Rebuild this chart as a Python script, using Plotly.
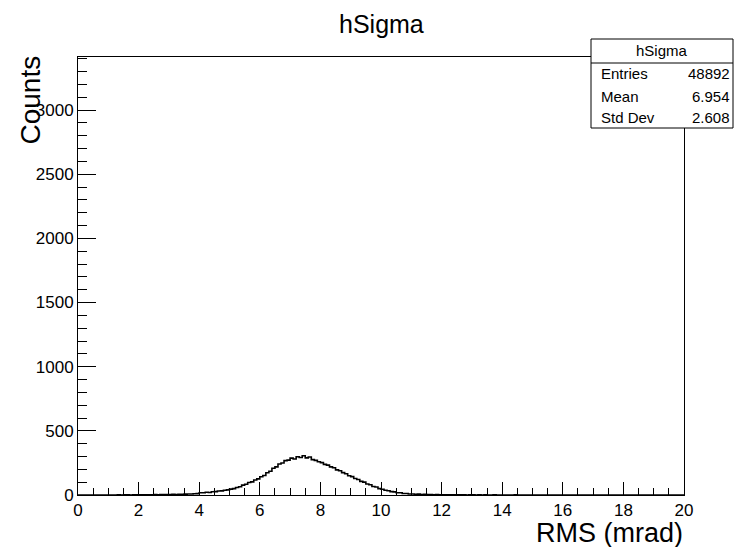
import plotly.graph_objects as go

# ---- data (bin width 0.1, range 0-20) ----
bin_start = 0.0
bin_width = 0.1
counts = [
    0, 0, 0, 0, 0, 0, 0, 0, 0, 0,
    0, 0, 0, 1, 0, 1, 1, 0, 1, 1,
    1, 2, 1, 2, 2, 3, 2, 3, 3, 4,
    4, 5, 4, 6, 6, 7, 8, 8, 10, 11,
    18, 17, 21, 20, 25, 26, 31, 32, 37, 40,
    46, 50, 59, 64, 77, 84, 97, 102, 117, 126,
    142, 152, 173, 185, 208, 219, 241, 249, 268, 272,
    287, 281, 298, 292, 306, 289, 296, 276, 270, 259,
    252, 239, 233, 219, 212, 196, 189, 174, 166, 150,
    143, 128, 121, 106, 100, 86, 80, 66, 62, 50,
    45, 37, 33, 26, 24, 18, 17, 12, 12, 8,
    8, 6, 7, 4, 5, 3, 4, 2, 3, 2,
    2, 1, 2, 2, 1, 1, 1, 1, 0, 1,
    1, 0, 1, 0, 1, 0, 0, 1, 0, 0,
    0, 0, 0, 0, 1, 0, 0, 0, 0, 0,
    0, 0, 0, 0, 0, 0, 0, 0, 0, 0,
    0, 0, 0, 0, 0, 0, 0, 0, 0, 0,
    0, 0, 0, 0, 0, 0, 0, 0, 0, 0,
    0, 0, 0, 0, 0, 0, 0, 0, 0, 0,
    0, 0, 0, 0, 0, 0, 0, 0, 0, 0,
]
hist_title = "hSigma"
x_title = "RMS (mrad)"
y_title = "Counts"
stats_labels = ["Entries", "Mean", "Std Dev"]
stats_values = ["48892", "6.954", "2.608"]
x_range = [0, 20]
y_range = [0, 3413]

edges = [bin_start + i * bin_width for i in range(len(counts) + 1)]
ys = counts + [counts[-1]]

FONT = "Liberation Sans, Arial, Helvetica, sans-serif"

fig = go.Figure()
fig.add_trace(go.Scatter(
    x=edges, y=ys, mode="lines", line=dict(color="black", width=1.6, shape="hv"),
    hoverinfo="skip", showlegend=False,
))

fig.update_layout(
    width=734, height=547,
    margin=dict(l=78, r=50, t=57, b=52),
    paper_bgcolor="white", plot_bgcolor="white",
    font=dict(family=FONT, color="black"),
    showlegend=False,
)
fig.update_xaxes(
    range=x_range, showgrid=False, zeroline=False,
    showline=True, linecolor="black", linewidth=1, mirror=True,
    ticks="inside", ticklen=13, tickwidth=1, tickcolor="black",
    tick0=0, dtick=2, tickfont=dict(size=17, family=FONT),
    minor=dict(ticks="inside", ticklen=7, dtick=0.5, tickcolor="black", showgrid=False),
)
fig.update_yaxes(
    range=y_range, showgrid=False, zeroline=False,
    showline=True, linecolor="black", linewidth=1, mirror=True,
    ticks="inside", ticklen=18, tickwidth=1, tickcolor="black",
    tick0=0, dtick=500, tickfont=dict(size=17, family=FONT),
    minor=dict(ticks="inside", ticklen=9, dtick=100, tickcolor="black", showgrid=False),
)

ann = []
ann.append(dict(text=hist_title, xref="paper", yref="paper", x=0.5, y=1.0, yshift=33,
                xanchor="center", yanchor="middle", showarrow=False,
                font=dict(size=25, family=FONT)))
ann.append(dict(text=x_title, xref="paper", yref="paper", x=1.0, y=0, yshift=-38,
                xanchor="right", yanchor="middle", showarrow=False, borderpad=0,
                font=dict(size=27, family=FONT)))
ann.append(dict(text=y_title, xref="paper", yref="paper", x=0, xshift=-48, y=1.0, yshift=3,
                xanchor="center", yanchor="top", textangle=-90, showarrow=False,
                font=dict(size=28, family=FONT)))

# stats box
bx0, bx1 = (591 - 78) / 606, (733 - 78) / 606
by0, by1 = (495 - 128) / 438, (495 - 39) / 438
bsep = (495 - 63) / 438
fig.add_shape(type="rect", xref="paper", yref="paper", x0=bx0, x1=bx1, y0=by0, y1=by1,
              line=dict(color="black", width=1), fillcolor="white", layer="above")
fig.add_shape(type="line", xref="paper", yref="paper", x0=bx0, x1=bx1, y0=bsep, y1=bsep,
              line=dict(color="black", width=1), layer="above")
ann.append(dict(text=hist_title, xref="paper", yref="paper", x=(bx0 + bx1) / 2,
                y=(495 - 51) / 438, xanchor="center", yanchor="middle", showarrow=False,
                font=dict(size=15, family=FONT)))
row_y = [73, 96, 118]
for lab, val, py in zip(stats_labels, stats_values, row_y):
    yy = (495 - py) / 438
    ann.append(dict(text=lab, xref="paper", yref="paper", x=(599 - 78) / 606, y=yy,
                    xanchor="left", yanchor="middle", showarrow=False,
                    font=dict(size=15, family=FONT)))
    ann.append(dict(text=val, xref="paper", yref="paper", x=(732 - 78) / 606, y=yy,
                    xanchor="right", yanchor="middle", showarrow=False,
                    font=dict(size=15, family=FONT)))
fig.update_layout(annotations=ann)

fig.write_html("out.html", config={"displayModeBar": False},
               post_script="document.body.style.margin='0';document.body.style.overflow='hidden';")
